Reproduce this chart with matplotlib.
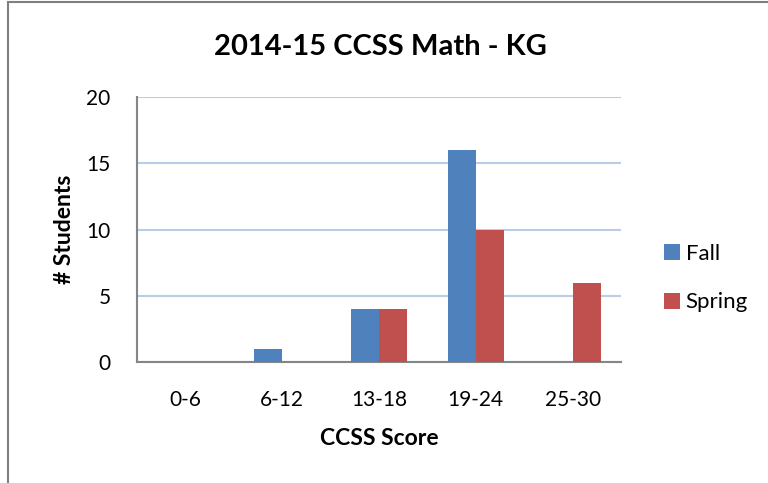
import numpy as np
import matplotlib.pyplot as plt

categories = ['0-6', '6-12', '13-18', '19-24', '25-30']
fall = [0, 1, 4, 16, 0]
spring = [0, 0, 4, 10, 6]

plt.rcParams['font.family'] = ['Lato', 'DejaVu Sans']

fig = plt.figure(figsize=(7.68, 4.83), dpi=100)
ax = fig.add_axes([137 / 768, 1 - 362 / 483, (621 - 137) / 768, (362 - 97) / 483])

x = np.arange(len(categories))
w = 0.29
ax.bar(x - w / 2, fall, w, color='#4f81bd', label='Fall', zorder=3)
ax.bar(x + w / 2, spring, w, color='#c0504d', label='Spring', zorder=3)

ax.set_xlim(-0.5, len(categories) - 0.5)
ax.set_ylim(0, 20)
ax.set_yticks([0, 5, 10, 15, 20])
ax.set_xticks(x)
ax.set_xticklabels(categories)
ax.tick_params(axis='both', length=0, labelsize=15, colors='black')
ax.tick_params(axis='y', pad=19)
ax.tick_params(axis='x', pad=20)
ax.yaxis.grid(True, color='#b9cde9', linewidth=1.5, zorder=0)

for s in ['top', 'right']:
    ax.spines[s].set_visible(False)
for s in ['left', 'bottom']:
    ax.spines[s].set_color('#868686')
    ax.spines[s].set_linewidth(1.5)

ax.set_xlabel('CCSS Score', fontsize=16.5, fontweight='bold', labelpad=13)
ax.set_ylabel('# Students', fontsize=16.5, fontweight='bold', labelpad=8)
fig.text(380 / 768, 1 - 47 / 483, '2014-15 CCSS Math - KG', fontsize=21,
         fontweight='bold', ha='center', va='center')

fig.legend(loc='center left', bbox_to_anchor=(644 / 768, 1 - 278 / 483), frameon=False,
           fontsize=16, handlelength=0.72, handleheight=0.72, labelspacing=1.3,
           handletextpad=0.25)

# outer frame (left and top edges)
fig.add_artist(plt.Line2D([8 / 768, 8 / 768], [0, 1 - 2 / 483], color='#7f7f7f', lw=1.5))
fig.add_artist(plt.Line2D([8 / 768, 1], [1 - 2 / 483, 1 - 2 / 483], color='#7f7f7f', lw=1.5))

fig.savefig('out.png', dpi=100)
